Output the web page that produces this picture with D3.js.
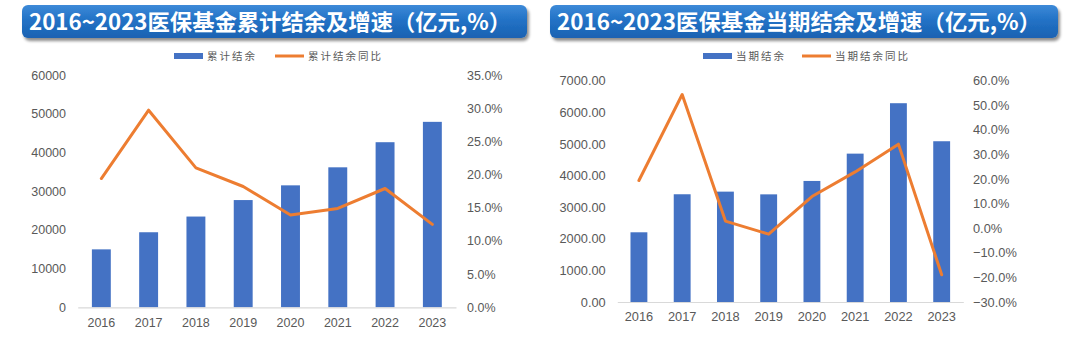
<!DOCTYPE html>
<html><head><meta charset="utf-8">
<script src="https://cdn.jsdelivr.net/npm/d3@7/dist/d3.min.js"></script>
<style>
html,body{margin:0;padding:0;background:#fff;}
svg{display:block;}
</style></head>
<body>
<svg id="c" width="1080" height="339"></svg>
<script>
const years = ["2016","2017","2018","2019","2020","2021","2022","2023"];
const cumBalance = [14964, 19385, 23440, 27697, 31500, 36156, 42640, 47900];
const cumGrowth = [19.4, 29.7, 21.0, 18.2, 13.9, 14.9, 17.9, 12.5];
const curBalance = [2205, 3408, 3491, 3405, 3829, 4693, 6288, 5085];
const curGrowth = [19.4, 54.4, 2.9, -2.4, 12.9, 22.9, 34.2, -18.9];
const leftTicks = [0,10000,20000,30000,40000,50000,60000];
const leftPctTicks = [0,5,10,15,20,25,30,35];
const rightTicks = [0,1000,2000,3000,4000,5000,6000,7000];
const rightPctTicks = [-30,-20,-10,0,10,20,30,40,50,60];

const BLUE = "#4472C4", ORANGE = "#ED7D31", GREY = "#595959";
const svg = d3.select("#c");
const defs = svg.append("defs");
const grad = defs.append("linearGradient").attr("id","bg").attr("x1",0).attr("y1",0).attr("x2",0).attr("y2",1);
grad.append("stop").attr("offset","0%").attr("stop-color","#3d8ad8");
grad.append("stop").attr("offset","45%").attr("stop-color","#2272c6");
grad.append("stop").attr("offset","100%").attr("stop-color","#1a62b2");
const flt = defs.append("filter").attr("id","sh").attr("x","-5%").attr("y","-20%").attr("width","110%").attr("height","160%");
flt.append("feGaussianBlur").attr("in","SourceAlpha").attr("stdDeviation",1.6);
flt.append("feOffset").attr("dx",2).attr("dy",3).attr("result","o");
flt.append("feComponentTransfer").append("feFuncA").attr("type","linear").attr("slope",0.45);
const fm = flt.append("feMerge"); fm.append("feMergeNode"); fm.append("feMergeNode").attr("in","SourceGraphic");

function banner(x, w, text, tl){
  svg.append("rect").attr("x",x).attr("y",5).attr("width",w).attr("height",33)
    .attr("rx",6).attr("fill","url(#bg)").attr("filter","url(#sh)");
  svg.append("text").attr("x",x+7).attr("y",30).attr("fill","#fff")
    .attr("font-family","'Noto Sans CJK SC', sans-serif").attr("font-weight","bold")
    .attr("font-size",22).attr("textLength",tl).attr("lengthAdjust","spacingAndGlyphs").text(text);
}

function legend(x0, barLabel, lineLabel, x1){
  svg.append("rect").attr("x",x0).attr("y",53).attr("width",29).attr("height",6).attr("fill",BLUE);
  svg.append("text").attr("x",x0+33).attr("y",60).attr("fill",GREY).attr("font-size",10.5)
    .attr("letter-spacing",2).attr("font-family","'Noto Sans CJK SC', sans-serif").text(barLabel);
  svg.append("line").attr("x1",x1).attr("x2",x1+29).attr("y1",56).attr("y2",56).attr("stroke",ORANGE).attr("stroke-width",3);
  svg.append("text").attr("x",x1+33).attr("y",60).attr("fill",GREY).attr("font-size",10.5)
    .attr("letter-spacing",2).attr("font-family","'Noto Sans CJK SC', sans-serif").text(lineLabel);
}

function chart(o){
  const x = d3.scaleBand().domain(years).range([o.x0,o.x1]).paddingInner(o.pi).paddingOuter(o.pi/2);
  const y = d3.scaleLinear().domain(o.yDom).range([o.yb,o.yt]);
  const y2 = d3.scaleLinear().domain(o.y2Dom).range([o.yb,o.yt]);
  const g = svg.append("g");
  g.selectAll("rect.bar").data(o.bars).join("rect").attr("class","bar")
    .attr("x",(d,i)=>x(years[i])).attr("width",x.bandwidth())
    .attr("y",d=>y(d)).attr("height",d=>y(0)-y(d)).attr("fill",BLUE);
  // x axis
  const xa = g.append("g").attr("transform",`translate(0,${o.yb})`)
    .call(d3.axisBottom(x).tickSize(0).tickPadding(o.xpad));
  xa.select(".domain").attr("stroke","#d9d9d9").attr("stroke-width",1.2);
  xa.selectAll("text").attr("fill",GREY).attr("font-size",o.fs).attr("font-family","'Liberation Sans', Arial, sans-serif");
  // left axis
  const la = g.append("g").attr("transform",`translate(${o.lx},0)`)
    .call(d3.axisLeft(y).tickValues(o.lt).tickSize(0).tickPadding(0).tickFormat(o.lf));
  la.select(".domain").remove();
  la.selectAll("text").attr("fill",GREY).attr("font-size",o.fs).attr("font-family","'Liberation Sans', Arial, sans-serif");
  // right axis
  const ra = g.append("g").attr("transform",`translate(${o.rx},0)`)
    .call(d3.axisRight(y2).tickValues(o.rt).tickSize(0).tickPadding(0).tickFormat(d=>d3.format(".1f")(d)+"%"));
  ra.select(".domain").remove();
  ra.selectAll("text").attr("fill",GREY).attr("font-size",o.fs).attr("font-family","'Liberation Sans', Arial, sans-serif");
  // line
  const line = d3.line().x((d,i)=>x(years[i])+x.bandwidth()/2).y(d=>y2(d));
  g.append("path").datum(o.line).attr("d",line).attr("fill","none")
    .attr("stroke",ORANGE).attr("stroke-width",3).attr("stroke-linejoin","round").attr("stroke-linecap","round");
}

banner(22, 505, "2016~2023医保基金累计结余及增速（亿元,%）", 482);
banner(550, 508, "2016~2023医保基金当期结余及增速（亿元,%）", 484);
legend(174, "累计结余", "累计结余同比", 275);
legend(703, "当期结余", "当期结余同比", 802);

chart({x0:77.7, x1:456, pi:0.6, yb:307.3, yt:75, yDom:[0,60000], y2Dom:[0,35],
  bars:cumBalance, line:cumGrowth, lx:66, rx:467, lt:leftTicks, rt:leftPctTicks,
  lf:d3.format("d"), fs:12.5, xpad:11});
chart({x0:617.3, x1:963.3, pi:0.61, yb:302, yt:80.7, yDom:[0,7000], y2Dom:[-30,60],
  bars:curBalance, line:curGrowth, lx:605.7, rx:973, lt:rightTicks, rt:rightPctTicks,
  lf:d3.format(".2f"), fs:12.8, xpad:10});
</script>
</body></html>
